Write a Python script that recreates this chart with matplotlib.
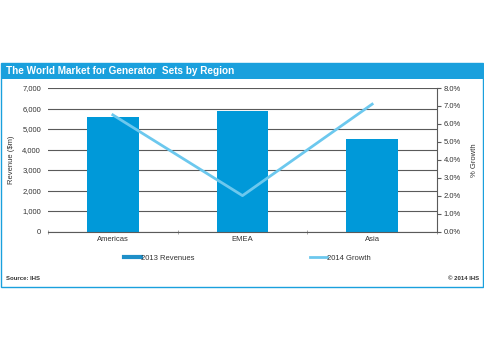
import matplotlib
matplotlib.use("Agg")
import matplotlib.pyplot as plt
from matplotlib.lines import Line2D
from matplotlib.patches import Rectangle
from matplotlib.ticker import FuncFormatter

plt.rcParams['font.family'] = ['Liberation Sans', 'DejaVu Sans']

regions = ["Americas", "EMEA", "Asia"]
revenues = [5580, 5900, 4500]      # 2013 revenues, $m
growth = [6.5, 2.0, 7.1]           # 2014 growth, %

bar_blue = "#0099D9"
line_blue = "#6CC8EE"
frame_blue = "#1AA0DD"
grid_col = "#5a5a5a"
txt = "#333333"

W, H = 485, 350
fig = plt.figure(figsize=(W / 100, H / 100), dpi=100)

# frame and title bar
fig.add_artist(Rectangle((1.5 / W, 1 - 287 / H), 482 / W, 224 / H, transform=fig.transFigure,
                         fill=False, edgecolor=frame_blue, linewidth=1.0))
fig.add_artist(Rectangle((1.5 / W, 1 - 79 / H), 482 / W, 15 / H, transform=fig.transFigure,
                         facecolor=frame_blue, edgecolor="none"))
fig.text(6 / W, 1 - 71.5 / H, "The World Market for Generator  Sets by Region", color="white",
         fontsize=7.2, fontweight="bold", va="center", ha="left")

ax = fig.add_axes([48 / W, 1 - 231.5 / H, 389 / W, 143.5 / H])
x = range(len(regions))
ax.bar(x, revenues, width=0.4, color=bar_blue, zorder=2)
ax.set_xlim(-0.5, 2.5)
ax.set_ylim(0, 7000)
ax.set_yticks(range(0, 7001, 1000))
ax.yaxis.set_major_formatter(FuncFormatter(lambda v, p: f"{int(v):,}"))
ax.grid(axis="y", color=grid_col, linewidth=0.8, zorder=1)
ax.set_xticks(list(x))
ax.set_xticklabels(regions)
ax.set_xticks([-0.5, 0.5, 1.5, 2.5], minor=True)
ax.tick_params(axis="x", which="major", length=0, pad=3, labelsize=5.5, labelcolor=txt)
ax.tick_params(axis="x", which="minor", length=3, direction="inout", color="#999999")
ax.tick_params(axis="y", length=0, pad=5, labelsize=5.5, labelcolor=txt)
for s in ["top", "left", "right"]:
    ax.spines[s].set_visible(False)
ax.spines["bottom"].set_color(grid_col)
ax.spines["bottom"].set_linewidth(0.8)
ax.set_ylabel("Revenue ($m)", fontsize=5.5, color=txt, labelpad=5)

ax2 = ax.twinx()
ax2.plot(x, growth, color=line_blue, linewidth=2, zorder=3)
ax2.set_ylim(0, 8)
ax2.set_yticks(range(0, 9))
ax2.yaxis.set_major_formatter(FuncFormatter(lambda v, p: f"{v:.1f}%"))
ax2.tick_params(axis="y", length=3, width=0.8, color=grid_col, pad=2, labelsize=5.5, labelcolor=txt)
for s in ["top", "left", "bottom"]:
    ax2.spines[s].set_visible(False)
ax2.spines["right"].set_color(grid_col)
ax2.spines["right"].set_linewidth(0.8)
ax2.set_ylabel("% Growth", fontsize=5.5, color=txt, rotation=90, labelpad=7)

# legend
h1 = Line2D([], [], color="#1E8FC8", linewidth=3)
h2 = Line2D([], [], color=line_blue, linewidth=2)
fig.legend(handles=[h1], labels=["2013 Revenues"], loc="center left",
           bbox_to_anchor=(117 / W, 1 - 258 / H), frameon=False, fontsize=5.5,
           handlelength=2.2, handletextpad=0.1, labelcolor=txt)
fig.legend(handles=[h2], labels=["2014 Growth"], loc="center left",
           bbox_to_anchor=(303 / W, 1 - 258 / H), frameon=False, fontsize=5.5,
           handlelength=2.2, handletextpad=0.1, labelcolor=txt)

fig.text(6 / W, 1 - 278 / H, "Source: IHS", fontsize=4.3, fontweight="bold", color=txt,
         va="center", ha="left")
fig.text(479 / W, 1 - 278 / H, "\u00a9 2014 IHS", fontsize=4.3, fontweight="bold", color=txt,
         va="center", ha="right")

fig.savefig("out.png", dpi=100)
